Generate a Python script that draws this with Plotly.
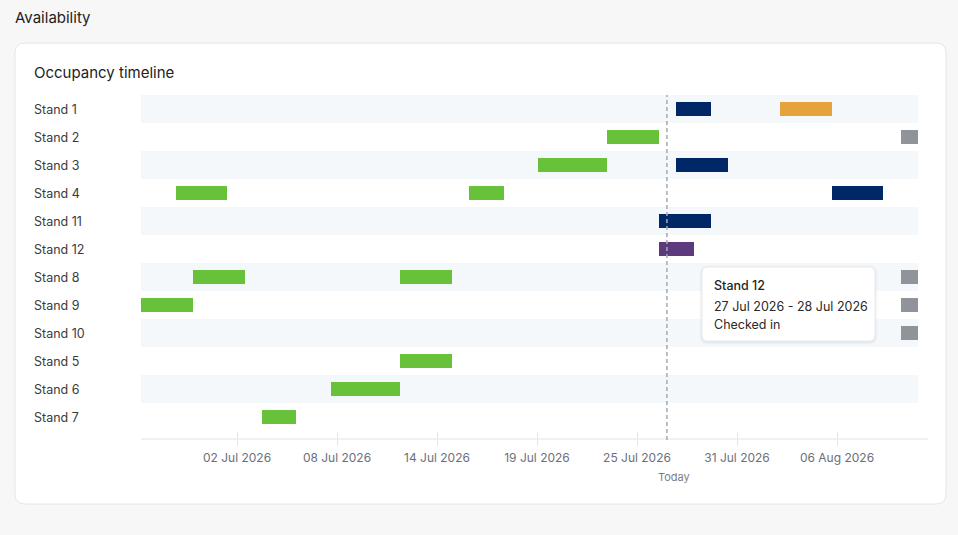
import pandas as pd
import plotly.graph_objects as go

W, H = 958, 535

# ---------------- data ----------------
stands = ["Stand 1", "Stand 2", "Stand 3", "Stand 4", "Stand 11", "Stand 12",
          "Stand 8", "Stand 9", "Stand 10", "Stand 5", "Stand 6", "Stand 7"]

booking_stand = ["Stand 1", "Stand 1",
                 "Stand 2", "Stand 2",
                 "Stand 3", "Stand 3",
                 "Stand 4", "Stand 4", "Stand 4",
                 "Stand 11",
                 "Stand 12",
                 "Stand 8", "Stand 8", "Stand 8",
                 "Stand 9", "Stand 9",
                 "Stand 10",
                 "Stand 5",
                 "Stand 6",
                 "Stand 7"]
booking_start = ["2026-07-28", "2026-08-03",
                 "2026-07-24", "2026-08-10",
                 "2026-07-20", "2026-07-28",
                 "2026-06-29", "2026-07-16", "2026-08-06",
                 "2026-07-27",
                 "2026-07-27",
                 "2026-06-30", "2026-07-12", "2026-08-10",
                 "2026-06-26", "2026-08-10",
                 "2026-08-10",
                 "2026-07-12",
                 "2026-07-08",
                 "2026-07-04"]
booking_end = ["2026-07-30", "2026-08-06",
               "2026-07-27", "2026-08-12",
               "2026-07-24", "2026-07-31",
               "2026-07-02", "2026-07-18", "2026-08-09",
               "2026-07-30",
               "2026-07-29",
               "2026-07-03", "2026-07-15", "2026-08-12",
               "2026-06-30", "2026-08-12",
               "2026-08-12",
               "2026-07-15",
               "2026-07-12",
               "2026-07-06"]
booking_status = ["Reserved", "Pending",
                  "Checked out", "Blocked",
                  "Checked out", "Reserved",
                  "Checked out", "Checked out", "Reserved",
                  "Reserved",
                  "Checked in",
                  "Checked out", "Checked out", "Blocked",
                  "Checked out", "Blocked",
                  "Blocked",
                  "Checked out",
                  "Checked out",
                  "Checked out"]

status_names = ["Checked out", "Reserved", "Pending", "Checked in", "Blocked"]
status_colors = ["#67c23a", "#002766", "#e6a23c", "#5b3a7e", "#909399"]

x_range = ["2026-06-27", "2026-08-11"]
tick_dates = ["2026-07-02 13:26", "2026-07-08 08:26", "2026-07-14 03:26",
              "2026-07-19 22:26", "2026-07-25 17:26", "2026-07-31 12:26",
              "2026-08-06 07:26"]
today = "2026-07-27 11:00"

tooltip_index = 10  # Stand 12 booking

# ---------------- helpers (layout only) ----------------
def px(x):
    return x / W

def py(y):
    return 1 - y / H

def rrect(x0, y0, x1, y1, r):
    pts = [
        f"M {px(x0 + r)},{py(y0)}",
        f"L {px(x1 - r)},{py(y0)}",
        f"Q {px(x1)},{py(y0)} {px(x1)},{py(y0 + r)}",
        f"L {px(x1)},{py(y1 - r)}",
        f"Q {px(x1)},{py(y1)} {px(x1 - r)},{py(y1)}",
        f"L {px(x0 + r)},{py(y1)}",
        f"Q {px(x0)},{py(y1)} {px(x0)},{py(y1 - r)}",
        f"L {px(x0)},{py(y0 + r)}",
        f"Q {px(x0)},{py(y0)} {px(x0 + r)},{py(y0)}",
        "Z",
    ]
    return " ".join(pts)

PLOT_L, PLOT_R = 141, 918
PLOT_T, PLOT_B = 95, 431

FONT = "Inter, 'Noto Sans', sans-serif"

fig = go.Figure()

starts = pd.to_datetime(pd.Series(booking_start))
ends = pd.to_datetime(pd.Series(booking_end))
durations = ((ends - starts).dt.total_seconds() * 1000).tolist()

for name, color in zip(status_names, status_colors):
    idx = [i for i, s in enumerate(booking_status) if s == name]
    fig.add_trace(go.Bar(
        orientation="h",
        y=[booking_stand[i] for i in idx],
        base=[booking_start[i] for i in idx],
        x=[durations[i] for i in idx],
        width=0.5,
        marker=dict(color=color, line=dict(width=0)),
        name=name,
        hovertemplate="%{y}<br>%{base|%d %b %Y}<br>" + name + "<extra></extra>",
        showlegend=False,
    ))

shapes = []
# card
shapes.append(dict(type="path", xref="paper", yref="paper", layer="below",
                   path=rrect(15, 43, 946, 504, 10),
                   fillcolor="#ffffff", line=dict(color="#e6e6e9", width=1)))
# alternating row bands
for i, s in enumerate(stands):
    if i % 2 == 0:
        shapes.append(dict(type="rect", xref="paper", yref="y", layer="below",
                           x0=px(PLOT_L), x1=px(PLOT_R), y0=i - 0.5, y1=i + 0.5,
                           fillcolor="#f5f8fb", line=dict(width=0)))
# axis line (extends a little past the plot area)
shapes.append(dict(type="line", xref="paper", yref="paper",
                   x0=px(PLOT_L), x1=px(928), y0=py(439), y1=py(439),
                   line=dict(color="#ececf0", width=1.5)))
# today line
shapes.append(dict(type="line", xref="x", yref="paper",
                   x0=today, x1=today, y0=py(440), y1=py(PLOT_T),
                   line=dict(color="#a6a9b0", width=1.5, dash="4px,3px")))
# tooltip shadow + box
for k, a in [(3, 0.012), (2, 0.02), (1, 0.03)]:
    shapes.append(dict(type="path", xref="paper", yref="paper",
                       path=rrect(702 - k, 267 - k + 1, 875 + k, 341 + k + 1, 6 + k),
                       fillcolor=f"rgba(0,0,0,{a})", line=dict(width=0)))
shapes.append(dict(type="path", xref="paper", yref="paper",
                   path=rrect(702, 267, 875, 341, 6),
                   fillcolor="#ffffff", line=dict(color="#ebebee", width=1)))

annotations = []
annotations.append(dict(text="Availability", xref="paper", yref="paper",
                        x=px(13), y=py(18), xanchor="left", yanchor="middle",
                        showarrow=False, font=dict(family=FONT, size=15, color="#222222")))
annotations.append(dict(text="Occupancy timeline", xref="paper", yref="paper",
                        x=px(32), y=py(72), xanchor="left", yanchor="middle",
                        showarrow=False, font=dict(family=FONT, size=15, color="#222222")))
for i, s in enumerate(stands):
    annotations.append(dict(text=s, xref="paper", yref="y", x=px(32), y=s,
                            xanchor="left", yanchor="middle", showarrow=False,
                            font=dict(family=FONT, size=12.5, color="#3a3a3a")))
annotations.append(dict(text="Today", xref="x", yref="paper", x=today, y=py(477),
                        xanchor="center", yanchor="middle", xshift=7, showarrow=False,
                        font=dict(family=FONT, size=11, color="#7a7e87")))

# tooltip text from the chosen booking
t_stand = booking_stand[tooltip_index]
t_start = pd.to_datetime(booking_start[tooltip_index])
t_last = pd.to_datetime(booking_end[tooltip_index]) - pd.Timedelta(days=1)
t_status = booking_status[tooltip_index]
tip_lines = [(t_stand, 285, "#1f1f1f", 500),
             (f"{t_start:%d %b %Y} - {t_last:%d %b %Y}", 306, "#2a2a2a", 400),
             (t_status, 324, "#2a2a2a", 400)]
for txt, yy, col, wt in tip_lines:
    annotations.append(dict(text=txt,
                            xref="paper", yref="paper", x=px(712), y=py(yy),
                            xanchor="left", yanchor="middle", showarrow=False,
                            font=dict(family=FONT, size=12.5, color=col, weight=wt)))

fig.update_layout(
    width=W, height=H,
    margin=dict(l=0, r=0, t=0, b=0),
    paper_bgcolor="#f7f7f7",
    plot_bgcolor="rgba(0,0,0,0)",
    barmode="overlay",
    bargap=0,
    shapes=shapes,
    annotations=annotations,
    hoverlabel=dict(bgcolor="white", font=dict(family=FONT, size=12, color="#222")),
    xaxis=dict(
        type="date",
        domain=[px(PLOT_L), px(PLOT_R)],
        range=x_range,
        tickvals=tick_dates,
        tickformat="%d %b %Y",
        ticks="outside", ticklen=14, tickwidth=1, tickcolor="#e6e6ea",
        showgrid=False, zeroline=False, showline=False,
        tickfont=dict(family=FONT, size=12, color="#6b6f7b"),
        ticklabelstandoff=2,
        fixedrange=True,
    ),
    yaxis=dict(
        domain=[py(PLOT_B), py(PLOT_T)],
        type="category",
        categoryorder="array", categoryarray=stands,
        range=[len(stands) - 0.5, -0.5],
        showticklabels=False, showgrid=False, zeroline=False, showline=False,
        ticks="",
        fixedrange=True,
    ),
    font=dict(family=FONT),
)

fig.write_html("out.html")
